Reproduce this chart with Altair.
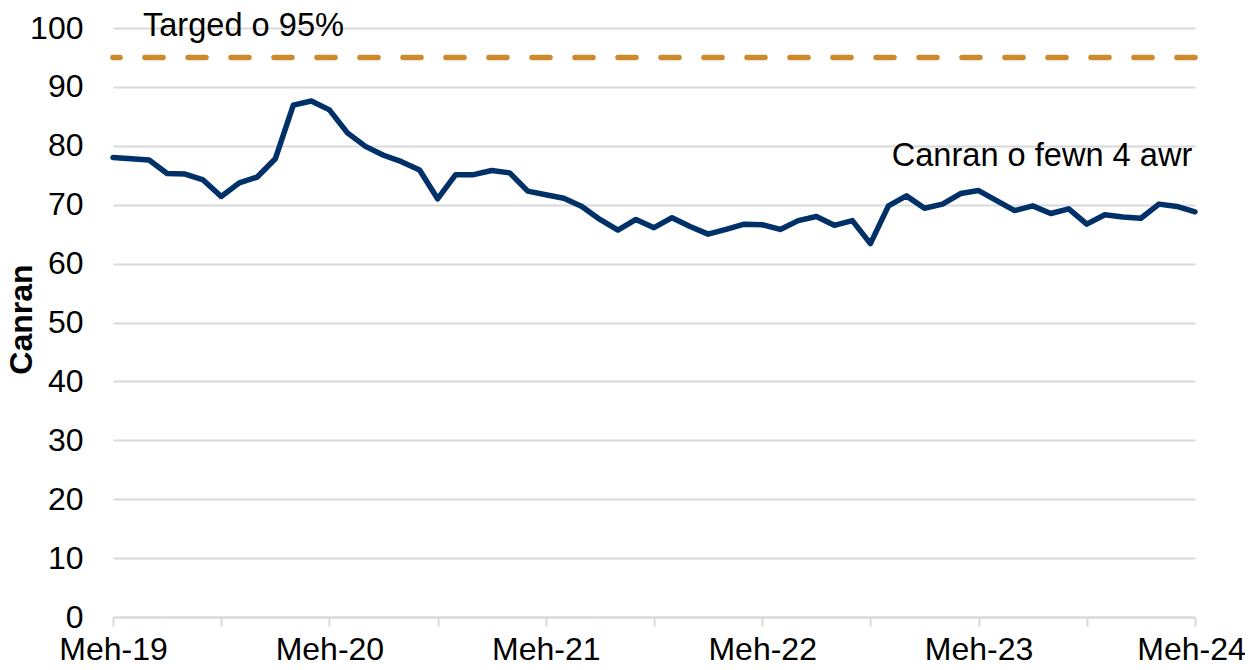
import altair as alt
import pandas as pd

# Monthly percentage seen within 4 hours, Meh-19 .. Meh-24 (61 months)
values = [
    78.0, 77.8, 77.6, 75.3, 75.2, 74.2, 71.4, 73.7, 74.7, 77.8,
    86.9, 87.6, 86.1, 82.2, 79.9, 78.4, 77.3, 75.9, 71.0, 75.1,
    75.1, 75.8, 75.4, 72.3, 71.7, 71.1, 69.7, 67.5, 65.7, 67.5,
    66.1, 67.8, 66.3, 65.0, 65.8, 66.7, 66.6, 65.8, 67.3, 68.0,
    66.5, 67.3, 63.4, 69.8, 71.5, 69.4, 70.1, 71.9, 72.4, 70.7,
    69.0, 69.8, 68.5, 69.3, 66.7, 68.3, 67.9, 67.7, 70.1, 69.7,
    68.8,
]
month_index = list(range(len(values)))
tick_positions = [0, 6, 12, 18, 24, 30, 36, 42, 48, 54, 60]
tick_labels = ["Meh-19", "", "Meh-20", "", "Meh-21", "", "Meh-22", "", "Meh-23", "", "Meh-24"]
y_ticks = [0, 10, 20, 30, 40, 50, 60, 70, 80, 90, 100]
target = [95]

annot_text = ["Targed o 95%", "Canran o fewn 4 awr"]
annot_x = [1.66, 59.85]
annot_y = [98.7, 76.6]

FONT = "Liberation Sans"
NAVY = "#003068"
GOLD = "#CC8A2C"
GRID = "#D9D9D9"

df = pd.DataFrame({"m": month_index, "v": values})
df_target = pd.DataFrame({"v": target})
df_annot = pd.DataFrame({"t": annot_text, "m": annot_x, "v": annot_y})

label_expr = "[" + ",".join("'" + s + "'" for s in tick_labels) + "][round(datum.value/6)]"

x_scale = alt.Scale(domain=[0, 60], nice=False, zero=False)
y_scale = alt.Scale(domain=[0, 100], nice=False)

x_axis = alt.Axis(
    values=tick_positions, labelExpr=label_expr, title=None, grid=False,
    domainColor=GRID, domainWidth=2, tickColor=GRID, tickWidth=2, tickSize=9,
    labelPadding=33, labelBaseline="alphabetic", labelFontSize=32, labelFont=FONT,
    labelColor="black", labelFlush=False, labelOverlap=False,
    labelOffset={"condition": {"test": "datum.value == 60", "value": -4}, "value": 0},
)
y_axis = alt.Axis(
    values=y_ticks, title="Canran", grid=True, gridColor=GRID, gridWidth=2,
    domain=False, ticks=False, labelPadding=30, labelFontSize=32, labelFont=FONT,
    labelColor="black", titleFontSize=32, titleFont=FONT, titleFontWeight="bold",
    titleColor="black", titleAngle=-90, titleX=-92, titleY=291,
    titleAlign="center", titleBaseline="middle",
)

rule = alt.Chart(df_target).mark_rule(
    color=GOLD, strokeWidth=5.5, strokeDash=[18, 25], strokeCap="round"
).encode(
    y=alt.Y("v:Q", scale=y_scale, axis=y_axis),
)

line = alt.Chart(df).mark_line(
    color=NAVY, strokeWidth=5.5, strokeJoin="round", strokeCap="round"
).encode(
    x=alt.X("m:Q", scale=x_scale, axis=x_axis),
    y=alt.Y("v:Q", scale=y_scale, axis=y_axis),
)

text_left = alt.Chart(df_annot.iloc[[0]]).mark_text(
    align="left", baseline="alphabetic", fontSize=32.6, font=FONT, color="black"
).encode(
    x=alt.X("m:Q", scale=x_scale, axis=x_axis),
    y=alt.Y("v:Q", scale=y_scale, axis=y_axis),
    text="t:N",
)
text_right = alt.Chart(df_annot.iloc[[1]]).mark_text(
    align="right", baseline="alphabetic", fontSize=32.6, font=FONT, color="black"
).encode(
    x=alt.X("m:Q", scale=x_scale, axis=x_axis),
    y=alt.Y("v:Q", scale=y_scale, axis=y_axis),
    text="t:N",
)

chart = alt.layer(line, rule, text_left, text_right).properties(
    width=1082,
    height=589,
    padding={"left": 105, "top": 20, "right": 50, "bottom": 45},
    autosize=alt.AutoSizeParams(type="none"),
    background="white",
).configure_view(stroke=None)

chart.save("out.html", embed_options={"renderer": "svg", "actions": False})
